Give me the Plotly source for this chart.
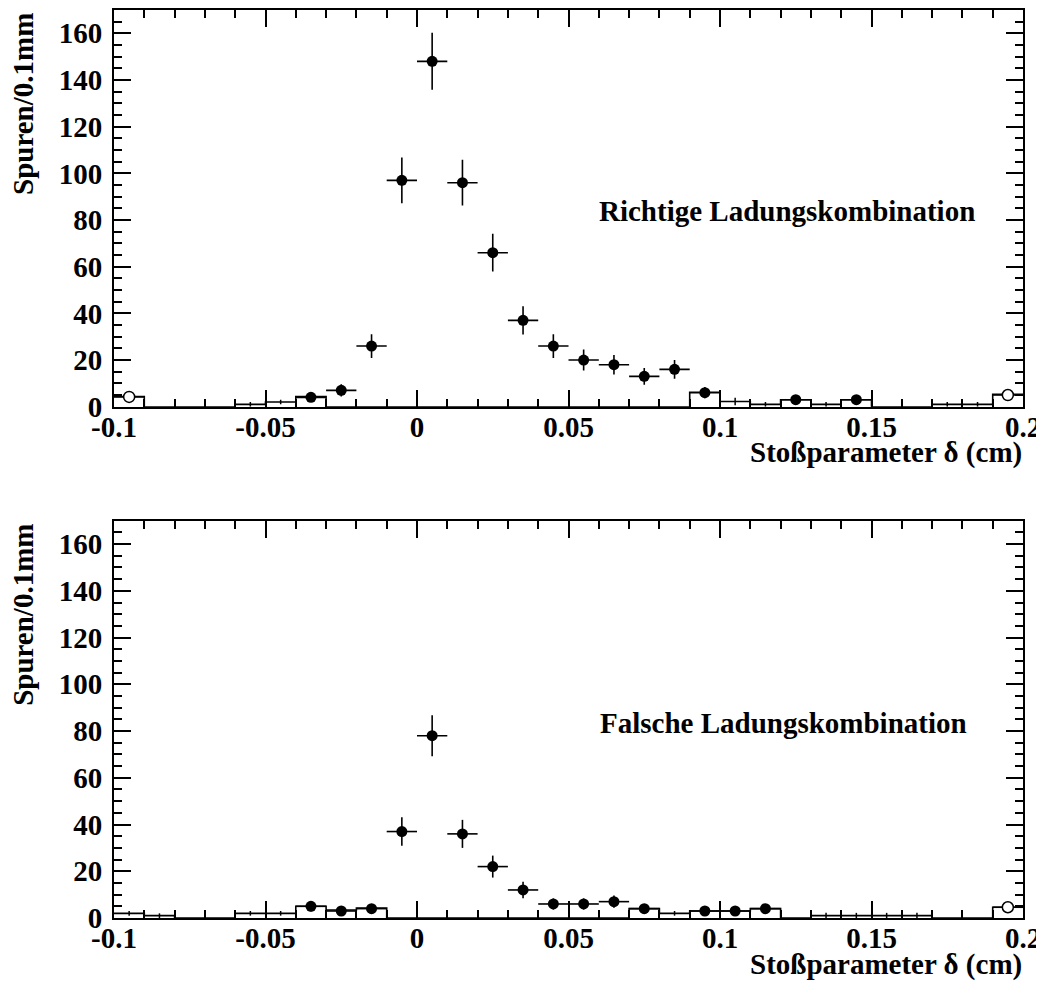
import plotly.graph_objects as go

# ---------------- data ----------------
bin_edges = [round(-0.1 + 0.01 * i, 3) for i in range(31)]

# upper panel: "Richtige Ladungskombination"  (open histogram, 0.01 bins from -0.1)
top_hist = [4.4, 0, 0, 0, 1, 2, 4.4, 0, 0, 0, 0, 0, 0, 0, 0, 0, 0, 0, 0, 6.2,
            2.2, 1, 3, 1, 3, 0, 0, 1, 1, 5.3]
top_x = [-0.035, -0.025, -0.015, -0.005, 0.005, 0.015, 0.025, 0.035, 0.045, 0.055,
         0.065, 0.075, 0.085, 0.095, 0.125, 0.145]
top_y = [4, 7, 26, 97, 148, 96, 66, 37, 26, 20, 18, 13, 16, 6, 3, 3]
top_err = [2.0, 2.6, 5.1, 9.8, 12.2, 9.8, 8.1, 6.1, 5.1, 4.5, 4.2, 3.6, 4.0, 2.4, 1.7, 1.7]
top_open_x = [-0.095, 0.195]
top_open_y = [4.2, 5]
top_open_err = [2.0, 2.2]
top_herr_x = [-0.055, -0.045, 0.105, 0.115, 0.135, 0.175, 0.185]
top_herr_y = [1, 2, 2.2, 1, 1, 1, 1]
top_herr_e = [1, 1, 1.6, 1, 1, 1, 1]

# lower panel: "Falsche Ladungskombination"
bot_hist = [2, 1, 0, 0, 2, 2, 5, 3.4, 4.3, 0, 0, 0, 0, 0, 0, 0, 0, 4, 2, 3,
            3, 4, 0, 1, 1, 1, 1, 0, 0, 4.6]
bot_x = [-0.035, -0.025, -0.015, -0.005, 0.005, 0.015, 0.025, 0.035, 0.045, 0.055,
         0.065, 0.075, 0.095, 0.105, 0.115]
bot_y = [5, 3, 4, 37, 78, 36, 22, 12, 6, 6, 7, 4, 3, 3, 4]
bot_err = [2.2, 1.7, 2.0, 6.1, 8.8, 6.0, 4.7, 3.5, 2.4, 2.4, 2.6, 2.0, 1.7, 1.7, 2.0]
bot_open_x = [0.195]
bot_open_y = [4.6]
bot_open_err = [2.1]
bot_herr_x = [-0.095, -0.085, -0.055, -0.045, 0.085, 0.135, 0.145, 0.155, 0.165]
bot_herr_y = [2, 1, 2, 2, 2, 1, 1, 1, 1]
bot_herr_e = [1, 1, 1, 1, 1, 1.2, 1.2, 1.2, 1.2]

x_tickvals = [-0.1, -0.05, 0, 0.05, 0.1, 0.15, 0.2]
x_ticktext = ["-0.1", "-0.05", "0", "0.05", "0.1", "0.15", "0.2"]
y_tickvals = [0, 20, 40, 60, 80, 100, 120, 140, 160]

x_title = "Stoßparameter δ (cm)"
y_title = "Spuren/0.1mm"
labels = ["Richtige Ladungskombination", "Falsche Ladungskombination"]

# ---------------- figure ----------------
FONT = "Liberation Serif"
PAGE_OFF = 8          # default body margin of the html page
W, H = 1044 - PAGE_OFF, 987 - PAGE_OFF
ML, MR, MT, MB = 106, 21, 0, 69

fig = go.Figure()


def add_panel(xa, ya, hist, px, py, pe, ox, oy, oe, hx, hy, he):
    fig.add_trace(go.Scatter(
        x=bin_edges, y=list(hist) + [hist[-1]], mode="lines", line_shape="hv",
        line=dict(color="black", width=1.6), xaxis=xa, yaxis=ya,
        hoverinfo="skip", showlegend=False))
    fig.add_trace(go.Scatter(
        x=hx, y=hy, mode="markers", marker=dict(size=1, color="rgba(0,0,0,0)"),
        error_y=dict(type="data", array=he, color="black", thickness=1.5, width=0),
        xaxis=xa, yaxis=ya, showlegend=False, hoverinfo="skip"))
    fig.add_trace(go.Scatter(
        x=px, y=py, mode="markers",
        marker=dict(size=11, color="black", symbol="circle"),
        error_y=dict(type="data", array=pe, color="black", thickness=1.6, width=0),
        error_x=dict(type="constant", value=0.005, color="black", thickness=1.6, width=0),
        xaxis=xa, yaxis=ya, showlegend=False))
    fig.add_trace(go.Scatter(
        x=ox, y=oy, mode="markers",
        marker=dict(size=11, color="white", symbol="circle",
                    line=dict(color="black", width=1.5)),
        error_y=dict(type="data", array=oe, color="black", thickness=1.6, width=0),
        error_x=dict(type="constant", value=0.005, color="black", thickness=1.6, width=0),
        xaxis=xa, yaxis=ya, showlegend=False))


add_panel("x2", "y2", top_hist, top_x, top_y, top_err, top_open_x, top_open_y,
          top_open_err, top_herr_x, top_herr_y, top_herr_e)
add_panel("x", "y", bot_hist, bot_x, bot_y, bot_err, bot_open_x, bot_open_y,
          bot_open_err, bot_herr_x, bot_herr_y, bot_herr_e)

tickfont = dict(family=FONT, size=29, color="black", weight="bold")

xaxis_common = dict(
    range=[-0.1, 0.2], tickmode="array", tickvals=x_tickvals, ticktext=x_ticktext,
    ticks="inside", ticklen=17, tickwidth=1.5, tickcolor="black",
    minor=dict(tickmode="linear", tick0=-0.1, dtick=0.01, ticks="inside",
               ticklen=8, tickwidth=1.5, tickcolor="black"),
    showline=True, linecolor="black", linewidth=2, mirror="ticks",
    showgrid=False, zeroline=False, tickfont=tickfont, domain=[0, 1],
    ticklabelstandoff=-7,
)
yaxis_common = dict(
    range=[0, 170], tickmode="array", tickvals=y_tickvals,
    ticks="inside", ticklen=17, tickwidth=1.5, tickcolor="black",
    minor=dict(tickmode="linear", tick0=0, dtick=5, ticks="inside",
               ticklen=8, tickwidth=1.5, tickcolor="black"),
    showline=True, linecolor="black", linewidth=2, mirror="ticks",
    showgrid=False, zeroline=False, tickfont=tickfont, ticklabelstandoff=4,
)

fig.update_layout(
    width=W, height=H,
    margin=dict(l=ML, r=MR, t=MT, b=MB),
    paper_bgcolor="white", plot_bgcolor="white",
    showlegend=False,
    xaxis=dict(**xaxis_common, anchor="y"),
    yaxis=dict(**yaxis_common, anchor="x", domain=[0, 0.4375]),
    xaxis2=dict(**xaxis_common, anchor="y2"),
    yaxis2=dict(**yaxis_common, anchor="x2", domain=[0.5631, 1]),
)

PW = W - ML - MR
PH = H - MT - MB


def sx(px):  # screen pixel -> paper x
    return (px - PAGE_OFF - ML) / PW


def sy(py):  # screen pixel -> paper y
    return (H - MB - (py - PAGE_OFF)) / PH


annot_font = dict(family=FONT, size=29, color="black", weight="bold")
ann = []
# panel labels
ann.append(dict(text=labels[0], x=sx(597), y=sy(209), xref="paper",
                yref="paper", xanchor="left", yanchor="middle", showarrow=False,
                font=annot_font))
ann.append(dict(text=labels[1], x=sx(598), y=sy(723), xref="paper",
                yref="paper", xanchor="left", yanchor="middle", showarrow=False,
                font=annot_font))
# x titles
for ypix in (451, 965):
    ann.append(dict(text=x_title, x=sx(1024), y=sy(ypix), xref="paper",
                    yref="paper", xanchor="right", yanchor="middle", showarrow=False,
                    font=annot_font))
# y titles
for ypix in (9, 521):
    ann.append(dict(text=y_title, x=sx(23), y=sy(ypix), xref="paper",
                    yref="paper", xanchor="center", yanchor="top", textangle=-90,
                    showarrow=False, font=annot_font))
fig.update_layout(annotations=ann)

fig.write_html("out.html")
